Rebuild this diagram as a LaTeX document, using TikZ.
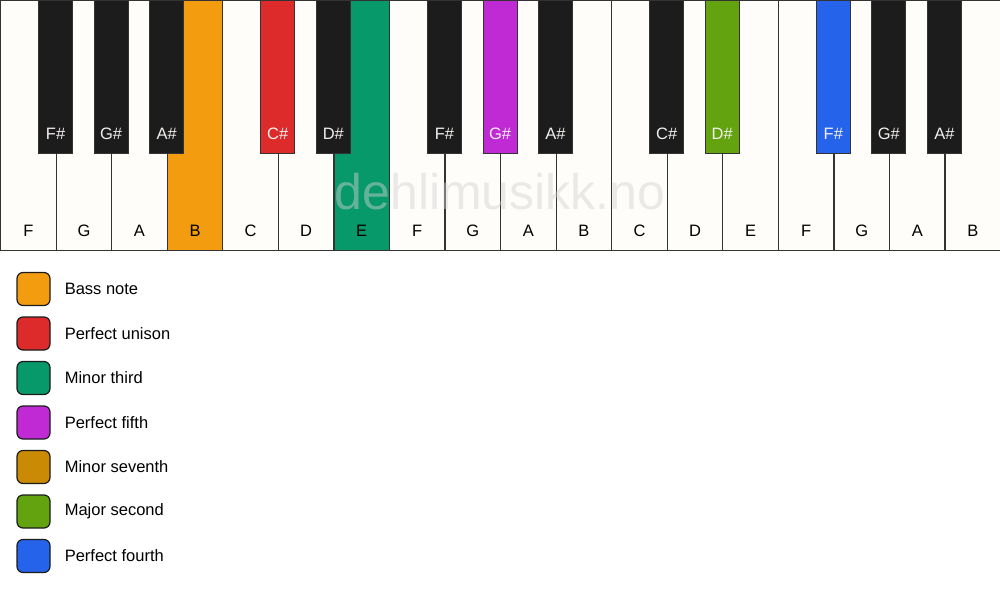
\documentclass[tikz,border=0pt]{standalone}
\usepackage{fontspec}
\setmainfont{Liberation Sans}
\usepackage{tikz}
\usetikzlibrary{positioning}
\definecolor{ivory}{HTML}{FFFDFA}
\definecolor{keyline}{HTML}{333333}
\definecolor{ebony}{HTML}{1C1C1C}
\definecolor{bassorange}{HTML}{F39C0F}
\definecolor{unisonred}{HTML}{DD2A2A}
\definecolor{thirdgreen}{HTML}{08996B}
\definecolor{fifthpurple}{HTML}{C02AD4}
\definecolor{seventhgold}{HTML}{CA8A04}
\definecolor{secondlime}{HTML}{62A30F}
\definecolor{fourthblue}{HTML}{2563EB}
\tikzset{white key/.style={rectangle,draw=keyline,fill=ivory,line width=1.2pt,minimum width=55.556pt,minimum height=250pt,inner sep=0pt,anchor=north west},
black key/.style={rectangle,draw=keyline,fill=ebony,line width=1pt,minimum width=34pt,minimum height=153pt,inner sep=0pt,anchor=north},
key label/.style={font=\fontsize{16.5}{19}\selectfont,inner sep=0pt},
legend box/.style={rectangle,rounded corners=6pt,draw=ebony,line width=1.2pt,minimum size=33pt,inner sep=0pt},
legend text/.style={font=\fontsize{16.5}{19}\selectfont,inner sep=0pt,anchor=west}}

\begin{document}
\begin{tikzpicture}[x=1pt,y=-1pt]
            \useasboundingbox[fill=white] (0,0) rectangle (1000,594);

            % white keys
            \foreach \i/\n/\c in {0/F/ivory,1/G/ivory,2/A/ivory,3/B/bassorange,4/C/ivory,5/D/ivory,6/E/thirdgreen,
                                  7/F/ivory,8/G/ivory,9/A/ivory,10/B/ivory,11/C/ivory,12/D/ivory,13/E/ivory,
                                  14/F/ivory,15/G/ivory,16/A/ivory,17/B/ivory} {
                \node[white key, fill=\c] (w\i) at (\i*55.556,0) {};
                \node[key label] at ([yshift=20pt]w\i.south) {\n};
            }

            % black keys
            \foreach \b/\n/\c in {1/F/ebony,2/G/ebony,3/A/ebony,5/C/unisonred,6/D/ebony,
                                  8/F/ebony,9/G/fifthpurple,10/A/ebony,12/C/ebony,13/D/secondlime,
                                  15/F/fourthblue,16/G/ebony,17/A/ebony} {
                \node[black key, fill=\c] (b\b) at (\b*55.556,0) {};
                \node[key label, text=ivory!90!gray] at ([yshift=20pt]b\b.south) {\n\#};
            }

            % watermark
            \node[font=\fontsize{50}{56}\selectfont, text=gray!35, text opacity=0.45, inner sep=0pt] (mark) at (500,192) {dehlimusikk.no};

            % legend
            \node[legend box, fill=bassorange] (lb1) at (33.5,289) {};
            \node[legend box, fill=unisonred] (lb2) [below = 10.3pt of lb1] {};
            \node[legend box, fill=thirdgreen] (lb3) [below = 10.3pt of lb2] {};
            \node[legend box, fill=fifthpurple] (lb4) [below = 10.3pt of lb3] {};
            \node[legend box, fill=seventhgold] (lb5) [below = 10.3pt of lb4] {};
            \node[legend box, fill=secondlime] (lb6) [below = 10.3pt of lb5] {};
            \node[legend box, fill=fourthblue] (lb7) [below = 10.3pt of lb6] {};

            \node[legend text] (lt1) [right = 14pt of lb1] {Bass note};
            \node[legend text] (lt2) [right = 14pt of lb2] {Perfect unison};
            \node[legend text] (lt3) [right = 14pt of lb3] {Minor third};
            \node[legend text] (lt4) [right = 14pt of lb4] {Perfect fifth};
            \node[legend text] (lt5) [right = 14pt of lb5] {Minor seventh};
            \node[legend text] (lt6) [right = 14pt of lb6] {Major second};
            \node[legend text] (lt7) [right = 14pt of lb7] {Perfect fourth};
        \end{tikzpicture}
\end{document}
